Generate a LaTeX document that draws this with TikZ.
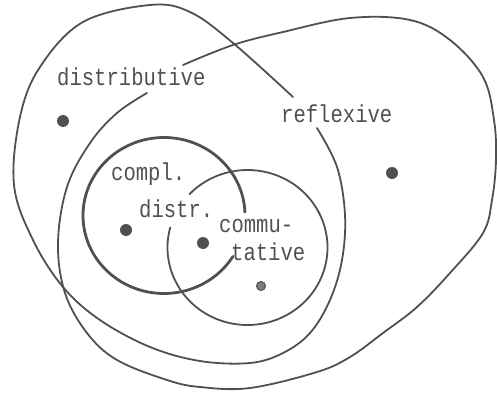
\documentclass[tikz,border=0pt]{standalone}
\usepackage{fontspec}
\newfontfamily\tw[FakeStretch=0.84]{Liberation Mono}
\definecolor{inkc}{RGB}{80,80,80}
\begin{document}
\begin{tikzpicture}[x=1pt,y=-1pt,
  curve/.style={draw=inkc, line width=1.8pt, line cap=round, line join=round},
  heavy/.style={draw=inkc, line width=2.8pt, line cap=round},
  lab/.style={font=\tw\fontsize{24.5}{24.5}\selectfont, text=inkc, inner sep=0pt, anchor=base west},
  dotn/.style={circle, fill=inkc, inner sep=0pt, minimum size=12pt}]
\useasboundingbox (0,0) rectangle (497,393);
% distributive region
\draw[curve] plot[smooth, tension=0.6] coordinates {(317,128) (337,167) (345,215) (342,260) (330,300) (310,333) (283,353) (250,363) (200,361) (150,347) (100,320) (63,287) (33,240) (14,185) (20,117) (40,67) (83,22) (150,5) (190,12) (233,43) (293,97)};
% reflexive region
\draw[curve] plot[smooth, tension=0.6] coordinates {(183,65) (233,45) (283,32) (350,18) (410,20) (450,40) (483,77) (494,120) (496,160) (492,200) (483,233) (450,273) (417,307) (383,333) (350,357) (317,372) (250,388) (200,387) (167,380) (117,360) (87,333) (65,293) (58,243) (67,187) (90,143) (117,113) (147,93)};
% complemented distributive
\draw[heavy] (164,215.5) ++(-2.5:81 and 78) arc[start angle=-2.5, end angle=-328.4, x radius=81, y radius=78];
% commutative
\draw[curve] (247.5,247.5) ++(-165:80 and 77.5) arc[start angle=-165, end angle=-496.5, x radius=80, y radius=77.5];
% labels
\node[lab] (ldist) at (57,86) {distributive};
\node[lab] (lrefl) at (281,122) {reflexive};
\node[lab] (lcomp) at (111,180) {compl.};
\node[lab] (ldistr) at (139,217) {distr.};
\node[lab] (lcomm) at (219,232) {commu-};
\node[lab] (ltat) at (231,260) {tative};
% dots
\node[dotn] (d1) at (63,121) {};
\node[dotn] (d2) at (392,173) {};
\node[dotn] (d3) at (126,230) {};
\node[dotn] (d4) at (203,243) {};
\node[dotn, minimum size=9pt, fill=inkc!75, draw=inkc, line width=1pt] (d5) at (261,286) {};
\end{tikzpicture}
\end{document}
